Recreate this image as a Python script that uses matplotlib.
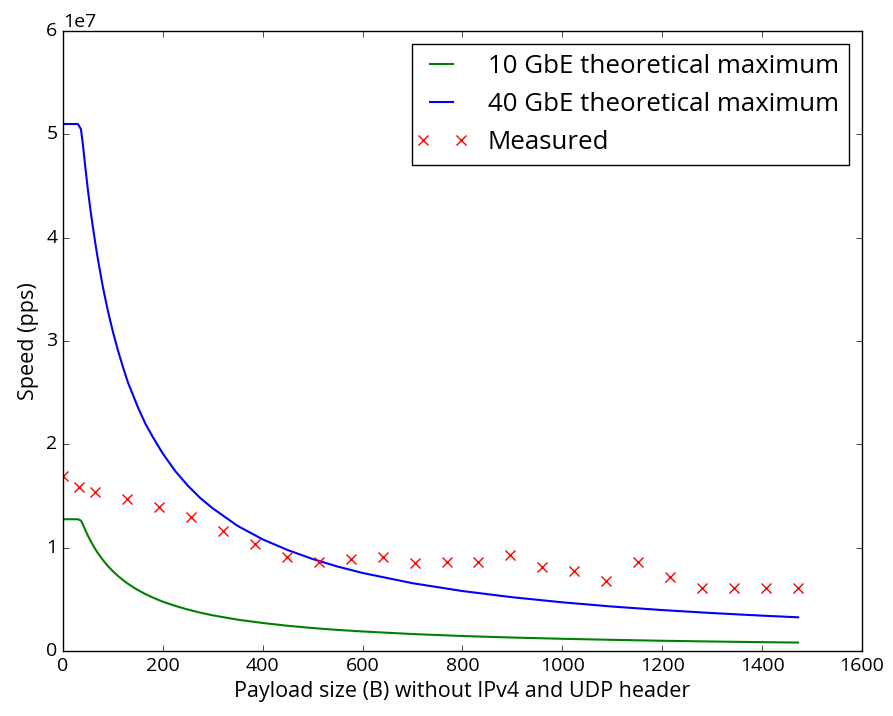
import numpy as np
import matplotlib
matplotlib.use("Agg")
import matplotlib.pyplot as plt
from matplotlib.legend_handler import HandlerLine2D

# payload sizes (bytes) sampled along the theoretical curves
theory_x = [0, 30, 36, 40, 45, 50, 55, 60, 65, 70, 80, 90, 100, 110, 120, 130,
            140, 150, 165, 180, 200, 225, 250, 275, 300, 350, 400, 450, 500,
            550, 600, 700, 800, 900, 1000, 1100, 1200, 1300, 1400, 1472]
# 40 GbE theoretical maximum (pps)
gbe40 = [5.10e7, 5.10e7, 5.05e7, 4.90e7, 4.67e7, 4.46e7, 4.27e7, 4.10e7, 3.94e7,
         3.79e7, 3.52e7, 3.29e7, 3.09e7, 2.91e7, 2.75e7, 2.60e7,
         2.48e7, 2.36e7, 2.20e7, 2.07e7, 1.91e7, 1.74e7, 1.60e7, 1.48e7,
         1.38e7, 1.21e7, 1.08e7, 0.977e7, 0.89e7,
         0.817e7, 0.755e7, 0.656e7, 0.58e7, 0.52e7, 0.471e7, 0.43e7, 0.396e7,
         0.367e7, 0.342e7, 0.326e7]
# 10 GbE theoretical maximum (pps)
gbe10 = [1.275e7, 1.275e7, 1.262e7, 1.225e7, 1.168e7, 1.116e7, 1.068e7, 1.025e7,
         0.984e7, 0.947e7, 0.880e7, 0.822e7, 0.772e7, 0.727e7, 0.687e7, 0.651e7,
         0.619e7, 0.590e7, 0.551e7, 0.517e7, 0.477e7, 0.436e7, 0.401e7, 0.371e7,
         0.345e7, 0.303e7, 0.271e7, 0.244e7, 0.222e7,
         0.204e7, 0.189e7, 0.164e7, 0.145e7, 0.130e7, 0.118e7, 0.108e7, 0.099e7,
         0.0917e7, 0.0855e7, 0.0815e7]

# measured throughput
meas_x = [0, 32, 64, 128, 192, 256, 320, 384, 448, 512, 576, 640, 704, 768,
          832, 896, 960, 1024, 1088, 1152, 1216, 1280, 1344, 1408, 1472]
meas_y = [1.694e7, 1.59e7, 1.542e7, 1.468e7, 1.397e7, 1.30e7, 1.165e7, 1.036e7,
          0.913e7, 0.864e7, 0.891e7, 0.907e7, 0.849e7, 0.859e7, 0.864e7,
          0.929e7, 0.816e7, 0.774e7, 0.678e7, 0.864e7, 0.713e7, 0.613e7,
          0.613e7, 0.613e7, 0.613e7]

plt.style.use('classic')
plt.rcParams['font.family'] = ['Open Sans', 'DejaVu Sans']
plt.rcParams['font.size'] = 14
plt.rcParams['savefig.facecolor'] = 'white'

fig = plt.figure(figsize=(8.93, 7.16), dpi=100, facecolor='white')
ax = fig.add_axes([0.0705, 0.0908, 0.8948, 0.8659])

ax.plot(theory_x, gbe10, color='g', linewidth=1.5, label='10 GbE theoretical maximum')
ax.plot(theory_x, gbe40, color='b', linewidth=1.5, label='40 GbE theoretical maximum')
meas, = ax.plot(meas_x, meas_y, 'x', color='r', markersize=7.5, markeredgewidth=1,
                label='Measured')

ax.set_xlim(0, 1600)
ax.set_ylim(0, 6e7)
ax.tick_params(labelsize=14)
ax.set_xlabel('Payload size (B) without IPv4 and UDP header', fontsize=15.5)
ax.set_ylabel('Speed (pps)', fontsize=15.5)

# old-style legend: markers sit at the ends of the handle
leg = ax.legend(loc='upper right', numpoints=2, fontsize=18.6, handlelength=1.47,
                handletextpad=1.05, labelspacing=0.5, borderpad=0.4,
                handler_map={meas: HandlerLine2D(marker_pad=0)})
leg.get_frame().set_edgecolor('black')

fig.savefig('out.png', dpi=100, facecolor='white')
